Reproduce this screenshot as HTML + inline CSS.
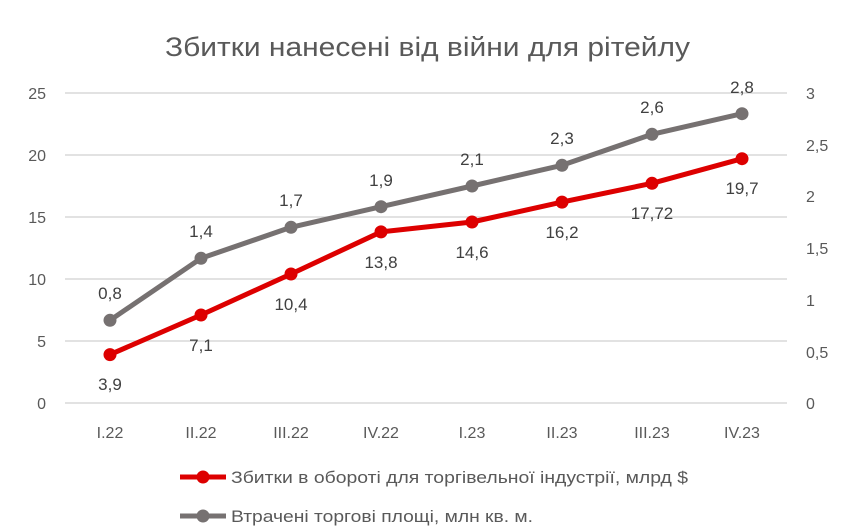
<!DOCTYPE html>
<html><head><meta charset="utf-8"><style>
html,body{margin:0;padding:0;background:#fff;}
svg{display:block;font-family:"Liberation Sans","DejaVu Sans",sans-serif;}
</style></head><body>
<svg width="861" height="529" viewBox="0 0 861 529" xmlns="http://www.w3.org/2000/svg">
<rect width="861" height="529" fill="#fff"/>
<text x="165" y="56" font-size="27" fill="#595959" textLength="525" lengthAdjust="spacingAndGlyphs">Збитки нанесені від війни для рітейлу</text>
<g stroke="#d9d9d9" stroke-width="1.5">
<line x1="65" x2="787" y1="93" y2="93"/><line x1="65" x2="787" y1="155" y2="155"/>
<line x1="65" x2="787" y1="217" y2="217"/><line x1="65" x2="787" y1="279" y2="279"/>
<line x1="65" x2="787" y1="341" y2="341"/><line x1="65" x2="787" y1="403" y2="403"/>
</g>
<g font-size="16" fill="#595959" text-anchor="end">
<text x="46" y="99">25</text><text x="46" y="161">20</text><text x="46" y="223">15</text>
<text x="46" y="285">10</text><text x="46" y="347">5</text><text x="46" y="409">0</text>
</g>
<g font-size="16" fill="#595959" text-anchor="start">
<text x="806" y="99">3</text><text x="806" y="151">2,5</text><text x="806" y="202">2</text>
<text x="806" y="254">1,5</text><text x="806" y="306">1</text><text x="806" y="358">0,5</text><text x="806" y="409">0</text>
</g>
<g font-size="16" fill="#595959" text-anchor="middle">
<text x="110" y="438">I.22</text><text x="201" y="438">II.22</text><text x="291" y="438">III.22</text>
<text x="381" y="438">IV.22</text><text x="472" y="438">I.23</text><text x="562" y="438">II.23</text>
<text x="652" y="438">III.23</text><text x="742" y="438">IV.23</text>
</g>
<polyline fill="none" stroke="#767171" stroke-width="5" stroke-linejoin="round" points="110,320.3 201,258.3 291,227.3 381,206.7 472,186 562,165.3 652,134.3 742,113.7"/>
<g fill="#767171">
<circle cx="110" cy="320.3" r="6.5"/><circle cx="201" cy="258.3" r="6.5"/><circle cx="291" cy="227.3" r="6.5"/><circle cx="381" cy="206.7" r="6.5"/>
<circle cx="472" cy="186" r="6.5"/><circle cx="562" cy="165.3" r="6.5"/><circle cx="652" cy="134.3" r="6.5"/><circle cx="742" cy="113.7" r="6.5"/>
</g>
<polyline fill="none" stroke="#dd0000" stroke-width="5" stroke-linejoin="round" points="110,354.6 201,315 291,274 381,231.9 472,222 562,202.1 652,183.3 742,158.7"/>
<g fill="#dd0000">
<circle cx="110" cy="354.6" r="6.5"/><circle cx="201" cy="315" r="6.5"/><circle cx="291" cy="274" r="6.5"/><circle cx="381" cy="231.9" r="6.5"/>
<circle cx="472" cy="222" r="6.5"/><circle cx="562" cy="202.1" r="6.5"/><circle cx="652" cy="183.3" r="6.5"/><circle cx="742" cy="158.7" r="6.5"/>
</g>
<g font-size="17" fill="#404040" text-anchor="middle">
<text x="110" y="299">0,8</text><text x="201" y="237">1,4</text><text x="291" y="206">1,7</text><text x="381" y="186">1,9</text>
<text x="472" y="165">2,1</text><text x="562" y="144">2,3</text><text x="652" y="113">2,6</text><text x="742" y="93">2,8</text>
<text x="110" y="390">3,9</text><text x="201" y="351">7,1</text><text x="291" y="310">10,4</text><text x="381" y="268">13,8</text>
<text x="472" y="258">14,6</text><text x="562" y="238">16,2</text><text x="652" y="219">17,72</text><text x="742" y="194">19,7</text>
</g>
<line x1="180" x2="226" y1="477" y2="477" stroke="#dd0000" stroke-width="5"/>
<circle cx="203" cy="477" r="6.5" fill="#dd0000"/>
<text x="231" y="483" font-size="17" fill="#595959" textLength="457" lengthAdjust="spacingAndGlyphs">Збитки в обороті для торгівельної індустрії, млрд $</text>
<line x1="180" x2="226" y1="516" y2="516" stroke="#767171" stroke-width="5"/>
<circle cx="203" cy="516" r="6.5" fill="#767171"/>
<text x="231" y="522" font-size="17" fill="#595959" textLength="302" lengthAdjust="spacingAndGlyphs">Втрачені торгові площі, млн кв. м.</text>
</svg>
</body></html>
